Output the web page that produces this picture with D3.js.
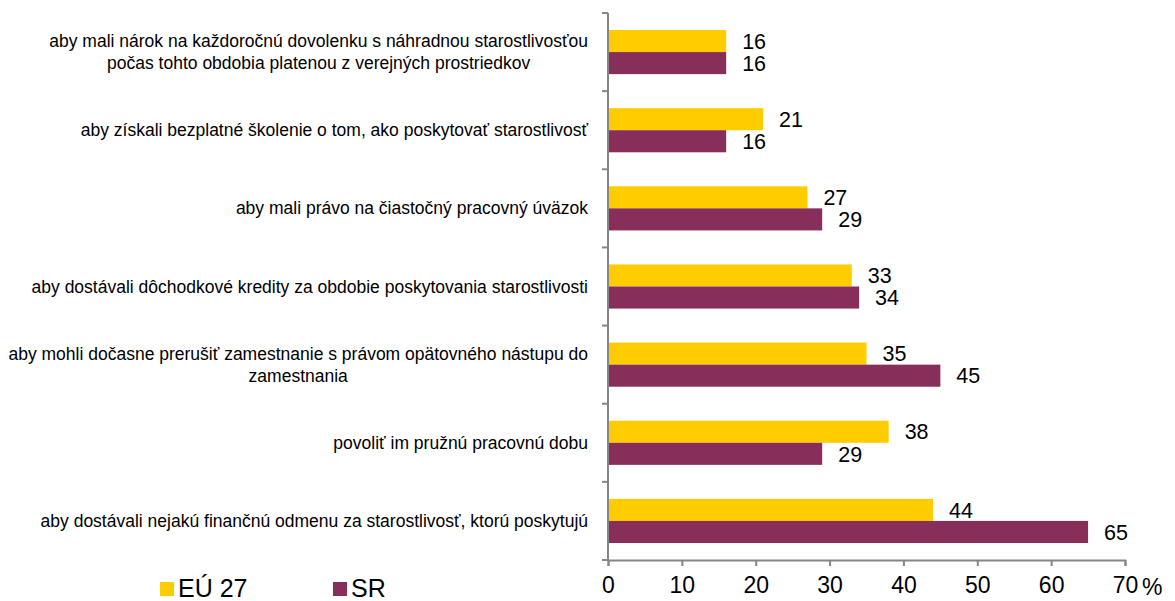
<!DOCTYPE html>
<html>
<head>
<meta charset="utf-8">
<script src="https://cdn.jsdelivr.net/npm/d3@7"></script>
<style>
  body { margin: 0; background: #fff; }
  text { font-family: "Liberation Sans", Arial, sans-serif; }
</style>
</head>
<body>
<div id="app"></div>
<script>
'use strict'

// categories, top to bottom (lines of wrapped labels split by \n)
const categories = [
  'aby mali nárok na každoročnú dovolenku s náhradnou starostlivosťou\npočas tohto obdobia platenou z verejných prostriedkov',
  'aby získali bezplatné školenie o tom, ako poskytovať starostlivosť',
  'aby mali právo na čiastočný pracovný úväzok',
  'aby dostávali dôchodkové kredity za obdobie poskytovania starostlivosti',
  'aby mohli dočasne prerušiť zamestnanie s právom opätovného nástupu do\nzamestnania',
  'povoliť im pružnú pracovnú dobu',
  'aby dostávali nejakú finančnú odmenu za starostlivosť, ktorú poskytujú'
]
const seriesNames = ['EÚ 27', 'SR']
const euValues = [16, 21, 27, 33, 35, 38, 44]
const srValues = [16, 16, 29, 34, 45, 29, 65]
const xTicks = [0, 10, 20, 30, 40, 50, 60, 70]

const colors = ['#FFCC00', '#872F5A']
const width = 1175
const height = 601
const margin = { top: 13, right: 50, bottom: 41, left: 608 }

const svg = d3.select('#app').append('svg')
  .attr('width', width)
  .attr('height', height)

const x = d3.scaleLinear().domain([0, 70]).range([margin.left, 1125])
const y = d3.scaleBand().domain(d3.range(categories.length))
  .range([margin.top, height - margin.bottom])
const inner = d3.scaleBand().domain([0, 1])
  .range([0, y.bandwidth()]).paddingOuter(0.77).paddingInner(0)

const rows = categories.map((c, i) => ({ i, values: [euValues[i], srValues[i]] }))

const group = svg.selectAll('g.row')
  .data(rows)
  .enter().append('g')
  .attr('class', 'row')
  .attr('transform', d => `translate(0,${y(d.i)})`)

group.selectAll('rect')
  .data(d => d.values.map((v, s) => ({ v, s })))
  .enter().append('rect')
  .attr('x', x(0))
  .attr('y', d => inner(d.s))
  .attr('width', d => x(d.v) - x(0))
  .attr('height', inner.bandwidth())
  .attr('fill', d => colors[d.s])

group.selectAll('text.val')
  .data(d => d.values.map((v, s) => ({ v, s })))
  .enter().append('text')
  .attr('class', 'val')
  .attr('x', d => x(d.v) + 16)
  .attr('y', d => inner(d.s) + inner.bandwidth() / 2)
  .attr('dy', '0.36em')
  .style('font-size', '21.5px')
  .style('fill', '#000')
  .text(d => d.v)

// y axis line and ticks at band edges
const axisColor = '#868686'
svg.append('line')
  .attr('x1', x(0)).attr('x2', x(0))
  .attr('y1', margin.top).attr('y2', height - margin.bottom)
  .attr('stroke', axisColor).attr('stroke-width', 2)
svg.selectAll('line.ytick')
  .data(d3.range(categories.length + 1))
  .enter().append('line')
  .attr('class', 'ytick')
  .attr('x1', x(0) - 6).attr('x2', x(0))
  .attr('y1', i => margin.top + i * y.step())
  .attr('y2', i => margin.top + i * y.step())
  .attr('stroke', axisColor).attr('stroke-width', 2)

// category labels: block right-aligned, lines centred in block
const labelRight = 588
categories.forEach((c, i) => {
  const lines = c.split('\n')
  const g = svg.append('g')
  const cy = y(i) + y.bandwidth() / 2
  const lh = 22
  const texts = lines.map((l, k) => g.append('text')
    .attr('y', cy + (k - (lines.length - 1) / 2) * lh)
    .attr('dy', '0.35em')
    .style('font-size', '17.5px')
    .style('fill', '#000')
    .attr('text-anchor', 'middle')
    .text(l))
  const w = d3.max(texts, t => t.node().getComputedTextLength())
  texts.forEach(t => t.attr('x', labelRight - w / 2))
})

// x axis
const xAxis = svg.append('g')
  .attr('transform', `translate(0,${height - margin.bottom})`)
  .call(d3.axisBottom(x).tickValues(xTicks).tickSize(6).tickPadding(11))
xAxis.select('.domain').attr('stroke', axisColor).attr('stroke-width', 2)
xAxis.selectAll('.tick line').attr('stroke', axisColor).attr('stroke-width', 2)
xAxis.selectAll('.tick text')
  .style('font-family', '"Liberation Sans", Arial, sans-serif')
  .style('font-size', '23px')
  .attr('fill', '#000')
svg.append('text')
  .attr('x', x(70) + 17)
  .attr('y', height - margin.bottom + 35)
  .style('font-size', '23px')
  .text('%')

// legend
const legendX = [160, 333]
seriesNames.forEach((name, s) => {
  svg.append('rect')
    .attr('x', legendX[s]).attr('y', 582)
    .attr('width', 14).attr('height', 14)
    .attr('fill', colors[s])
  svg.append('text')
    .attr('x', legendX[s] + 18).attr('y', 597)
    .style('font-size', '25px')
    .text(name)
})
</script>
</body>
</html>
